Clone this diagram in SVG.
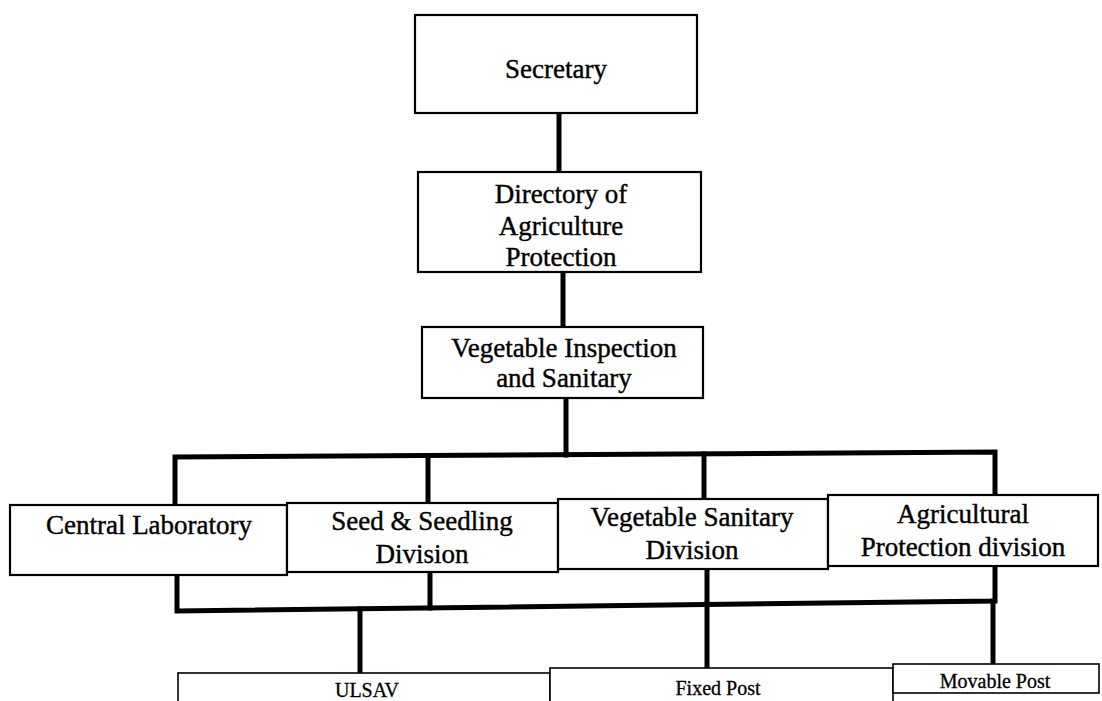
<svg xmlns="http://www.w3.org/2000/svg" width="1102" height="701" viewBox="0 0 1102 701">
  <style>
    .box { fill: #ffffff; stroke: #000000; stroke-width: 2.2; }
    .thin { fill: #ffffff; stroke: #000000; stroke-width: 1.6; }
    .lbl { font-family: "Liberation Serif", "Times New Roman", serif; font-size: 27px; fill: #000000; stroke: #000000; stroke-width: 0.4; text-anchor: middle; }
    .sm { font-family: "Liberation Serif", "Times New Roman", serif; font-size: 20px; fill: #000000; stroke: #000000; stroke-width: 0.3; text-anchor: middle; }
    .link { fill: none; stroke: #000000; stroke-width: 5; stroke-linecap: square; stroke-linejoin: miter; }
  </style>
  <rect width="1102" height="701" fill="#ffffff"/>

  <!-- connectors -->
  <g id="connectors">
    <line class="link" x1="559" y1="113" x2="559" y2="172"/>
    <line class="link" x1="563" y1="272" x2="563" y2="327"/>
    <line class="link" x1="566" y1="398" x2="566" y2="455"/>
    <!-- upper bus to the four divisions -->
    <polyline class="link" points="175,505 175,457 995,452 995,495"/>
    <line class="link" x1="428" y1="456" x2="428" y2="503"/>
    <line class="link" x1="704" y1="454" x2="704" y2="499"/>
    <!-- lower bus from the four divisions -->
    <polyline class="link" points="177,575 177,611 995,601 995,566"/>
    <line class="link" x1="430" y1="572" x2="430" y2="608"/>
    <line class="link" x1="707" y1="569" x2="707" y2="604"/>
    <!-- drops to the posts -->
    <line class="link" x1="360" y1="609" x2="360" y2="673"/>
    <line class="link" x1="707" y1="604" x2="707" y2="668"/>
    <line class="link" x1="993" y1="601" x2="993" y2="664"/>
  </g>

  <g id="secretary">
    <rect class="box" x="415" y="15" width="282" height="98"/>
    <text class="lbl" x="556" y="78">Secretary</text>
  </g>

  <g id="directory">
    <rect class="box" x="418" y="172" width="283" height="100"/>
    <text class="lbl" x="561" y="203">Directory of</text>
    <text class="lbl" x="561" y="235">Agriculture</text>
    <text class="lbl" x="561" y="266">Protection</text>
  </g>

  <g id="inspection">
    <rect class="box" x="422" y="327" width="281" height="71"/>
    <text class="lbl" x="564" y="357">Vegetable Inspection</text>
    <text class="lbl" x="564" y="387">and Sanitary</text>
  </g>

  <g id="central-lab">
    <rect class="box" x="10" y="505" width="277" height="70"/>
    <text class="lbl" x="149" y="534">Central Laboratory</text>
  </g>

  <g id="seed-division">
    <rect class="box" x="287" y="503" width="271" height="69"/>
    <text class="lbl" x="422" y="530">Seed &amp; Seedling</text>
    <text class="lbl" x="422" y="563">Division</text>
  </g>

  <g id="sanitary-division">
    <rect class="box" x="558" y="499" width="270" height="70"/>
    <text class="lbl" x="692" y="526">Vegetable Sanitary</text>
    <text class="lbl" x="692" y="559">Division</text>
  </g>

  <g id="protection-division">
    <rect class="box" x="828" y="495" width="270" height="71"/>
    <text class="lbl" x="963" y="523">Agricultural</text>
    <text class="lbl" x="963" y="556">Protection division</text>
  </g>

  <g id="ulsav">
    <rect class="thin" x="178" y="673" width="372" height="40"/>
    <text class="sm" x="367" y="697">ULSAV</text>
  </g>

  <g id="fixed-post">
    <rect class="thin" x="550" y="668" width="343" height="45"/>
    <text class="sm" x="718" y="695">Fixed Post</text>
  </g>

  <g id="movable-post">
    <rect class="thin" x="893" y="664" width="206" height="29"/>
    <text class="sm" x="995" y="688">Movable Post</text>
  </g>
</svg>
